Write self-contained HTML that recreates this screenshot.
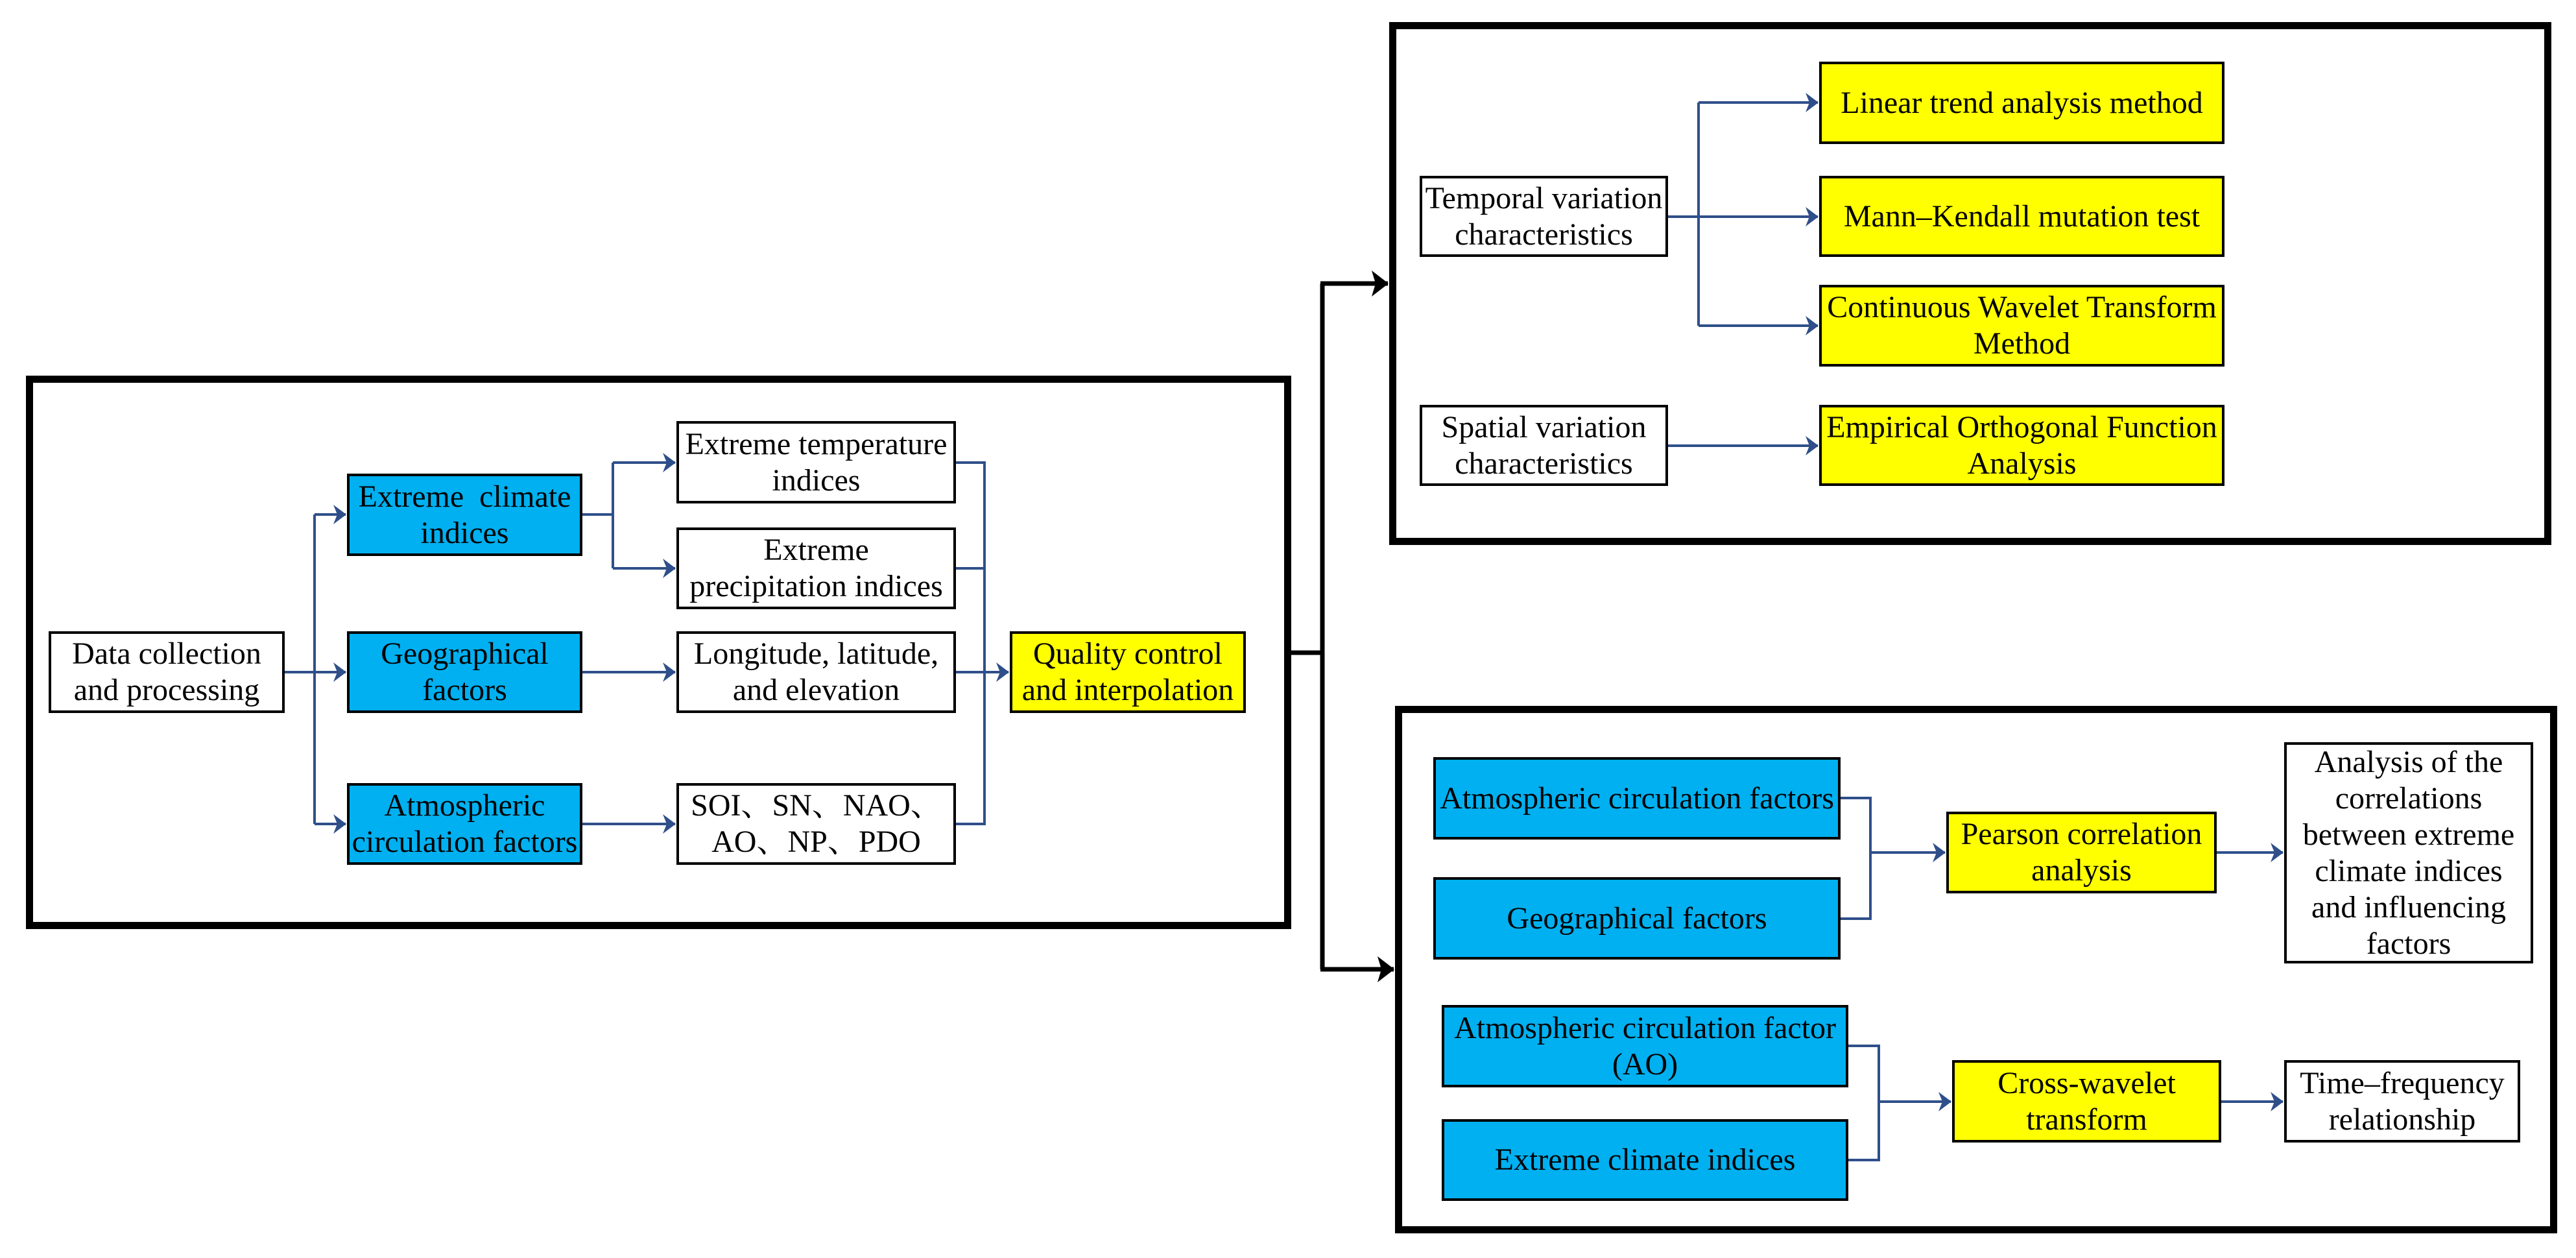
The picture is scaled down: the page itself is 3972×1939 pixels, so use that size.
<!DOCTYPE html>
<html><head><meta charset="utf-8"><style>
body{margin:0;width:3972px;height:1939px;background:#fff;position:relative;overflow:hidden;font-family:"Liberation Serif","Noto Serif CJK SC",serif;}
.b{position:absolute;box-sizing:border-box;border:4px solid #000;display:flex;align-items:center;justify-content:center;text-align:center;font-family:"Liberation Serif","Noto Serif CJK SC",serif;font-size:48px;line-height:56px;color:#000;}
.bl{background:#00B0F0}.y{background:#FFFF00}.w{background:#fff}
.f{position:absolute;box-sizing:border-box;border:11px solid #000;}
svg{position:absolute;left:0;top:0}
</style></head><body>
<div class="f" style="left:40px;top:579px;width:1951px;height:853px"></div>
<div class="f" style="left:2142px;top:34px;width:1792px;height:806px"></div>
<div class="f" style="left:2151px;top:1088px;width:1792px;height:813px"></div>

<div class="b w" style="left:75px;top:973px;width:364px;height:126px">Data collection<br>and processing</div>
<div class="b bl" style="left:535px;top:730px;width:363px;height:127px">Extreme&nbsp; climate<br>indices</div>
<div class="b bl" style="left:535px;top:973px;width:363px;height:126px">Geographical<br>factors</div>
<div class="b bl" style="left:535px;top:1207px;width:363px;height:126px">Atmospheric<br>circulation factors</div>
<div class="b w" style="left:1043px;top:649px;width:431px;height:127px">Extreme temperature<br>indices</div>
<div class="b w" style="left:1043px;top:813px;width:431px;height:126px">Extreme<br>precipitation indices</div>
<div class="b w" style="left:1043px;top:973px;width:431px;height:126px">Longitude, latitude,<br>and elevation</div>
<div class="b w" style="left:1043px;top:1207px;width:431px;height:126px">SOI、SN、NAO、<br>AO、NP、PDO</div>
<div class="b y" style="left:1557px;top:973px;width:364px;height:126px">Quality control<br>and interpolation</div>

<div class="b w" style="left:2189px;top:271px;width:383px;height:125px">Temporal variation<br>characteristics</div>
<div class="b w" style="left:2189px;top:624px;width:383px;height:125px">Spatial variation<br>characteristics</div>
<div class="b y" style="left:2805px;top:95px;width:625px;height:127px">Linear trend analysis method</div>
<div class="b y" style="left:2805px;top:271px;width:625px;height:125px">Mann–Kendall mutation test</div>
<div class="b y" style="left:2805px;top:439px;width:625px;height:126px">Continuous Wavelet Transform<br>Method</div>
<div class="b y" style="left:2805px;top:624px;width:625px;height:125px">Empirical Orthogonal Function<br>Analysis</div>

<div class="b bl" style="left:2210px;top:1167px;width:628px;height:127px">Atmospheric circulation factors</div>
<div class="b bl" style="left:2210px;top:1352px;width:628px;height:127px">Geographical factors</div>
<div class="b bl" style="left:2223px;top:1549px;width:627px;height:127px">Atmospheric circulation factor<br>(AO)</div>
<div class="b bl" style="left:2223px;top:1725px;width:627px;height:126px">Extreme climate indices</div>
<div class="b y" style="left:3001px;top:1251px;width:417px;height:126px">Pearson correlation<br>analysis</div>
<div class="b w" style="left:3522px;top:1144px;width:384px;height:341px">Analysis of the<br>correlations<br>between extreme<br>climate indices<br>and influencing<br>factors</div>
<div class="b y" style="left:3010px;top:1634px;width:415px;height:127px">Cross-wavelet<br>transform</div>
<div class="b w" style="left:3522px;top:1634px;width:364px;height:127px">Time–frequency<br>relationship</div>

<svg width="3972" height="1939">
<defs>
<marker id="a" markerWidth="20" markerHeight="30" refX="19" refY="15" orient="auto" markerUnits="userSpaceOnUse"><path d="M0,0 L20,15 L0,30 L6,15 Z" fill="#2F4F8A"/></marker>
<marker id="k" markerWidth="26" markerHeight="40" refX="25" refY="20" orient="auto" markerUnits="userSpaceOnUse"><path d="M0,0 L26,20 L0,40 L6,20 Z" fill="#000"/></marker>
</defs>
<g stroke="#2F4F8A" stroke-width="4" fill="none">
<path d="M439,1036 H533" marker-end="url(#a)"/>
<path d="M485,793 V1270"/>
<path d="M485,793 H533" marker-end="url(#a)"/>
<path d="M485,1270 H533" marker-end="url(#a)"/>
<path d="M898,793 H945 M945,713 V876"/>
<path d="M945,713 H1041" marker-end="url(#a)"/>
<path d="M945,876 H1041" marker-end="url(#a)"/>
<path d="M898,1036 H1041" marker-end="url(#a)"/>
<path d="M898,1270 H1041" marker-end="url(#a)"/>
<path d="M1474,713 H1518 V1270 H1474 M1474,876 H1518"/>
<path d="M1474,1036 H1555" marker-end="url(#a)"/>
<path d="M2572,334 H2803" marker-end="url(#a)"/>
<path d="M2619,158 V502"/>
<path d="M2619,158 H2803" marker-end="url(#a)"/>
<path d="M2619,502 H2803" marker-end="url(#a)"/>
<path d="M2572,687 H2803" marker-end="url(#a)"/>
<path d="M2838,1230 H2884 V1416 H2838"/>
<path d="M2884,1314 H2999" marker-end="url(#a)"/>
<path d="M3418,1314 H3520" marker-end="url(#a)"/>
<path d="M2850,1612 H2897 V1788 H2850"/>
<path d="M2897,1698 H3008" marker-end="url(#a)"/>
<path d="M3425,1698 H3520" marker-end="url(#a)"/>
</g>
<g stroke="#000" stroke-width="7" fill="none">
<path d="M1991,1006 H2039 M2039,437 V1494"/>
<path d="M2036,437 H2140" marker-end="url(#k)"/>
<path d="M2036,1494 H2149" marker-end="url(#k)"/>
</g>
</svg>
</body></html>
